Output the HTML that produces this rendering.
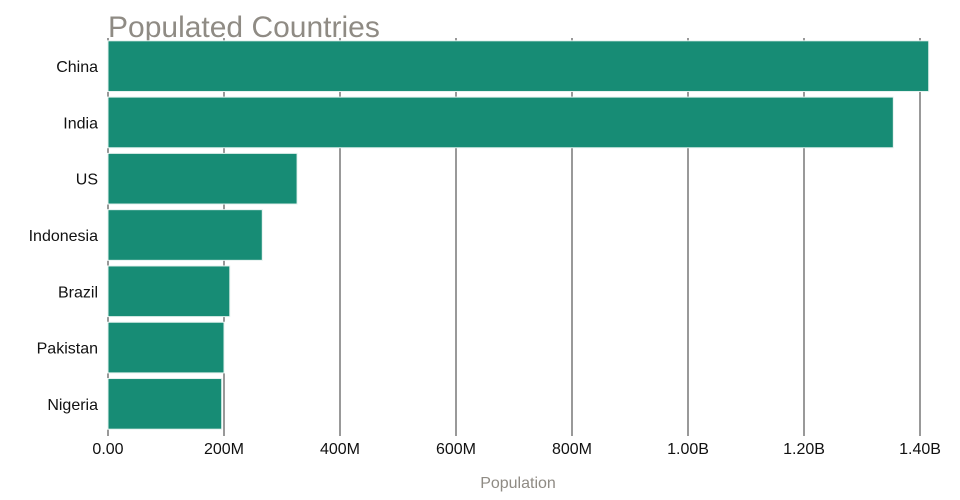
<!DOCTYPE html>
<html><head><meta charset="utf-8"><style>
body{margin:0;background:#fff;}
svg{font-family:"Liberation Sans",sans-serif;display:block;}
</style></head><body>
<svg width="960" height="500">
<text x="108" y="37" font-size="30" fill="#8f8b84">Populated Countries</text>
<g id="grid"></g><g id="bars"></g><g id="ylabels"></g><g id="xticks"></g>
<text x="518" y="488" font-size="16" fill="#8f8b84" text-anchor="middle">Population</text>
</svg>
<script>
const categories=["China","India","US","Indonesia","Brazil","Pakistan","Nigeria"];
const values=[1415,1354,326,266,210,200,196];
const tickValues=[0,200,400,600,800,1000,1200,1400];
const tickLabels=["0.00","200M","400M","600M","800M","1.00B","1.20B","1.40B"];
const NS="http://www.w3.org/2000/svg";
const x0=108,x1=920,plotTop=38,plotBot=432,maxV=1400;
const xs=v=>x0+(v/maxV)*(x1-x0);
const step=(plotBot-plotTop)/categories.length;
const ys=i=>plotTop+i*step;
function mk(t,a,p){const e=document.createElementNS(NS,t);for(const k in a)e.setAttribute(k,a[k]);document.getElementById(p).appendChild(e);return e;}
tickValues.forEach((v,i)=>{
 const g=mk("line",{x1:xs(v),x2:xs(v),y1:plotTop,y2:plotBot+4,stroke:"#333","stroke-width":1},"grid");
 
 
 const t=mk("text",{x:xs(v),y:454,"font-size":16,fill:"#111","text-anchor":"middle"},"xticks");
 t.textContent=tickLabels[i];
 
 
});
categories.forEach((c,i)=>{
 const pad=step*0.05;
 const r=mk("rect",{x:x0,y:ys(i)+pad,width:xs(values[i])-x0,height:step-2*pad,fill:"#178c75",stroke:"#e6f2ef","stroke-width":1},"bars");
 
 
 const t=mk("text",{x:98,y:ys(i)+step/2+6,"font-size":16,fill:"#111","text-anchor":"end"},"ylabels");
 t.textContent=c;
 
 
});
</script>
</body></html>
